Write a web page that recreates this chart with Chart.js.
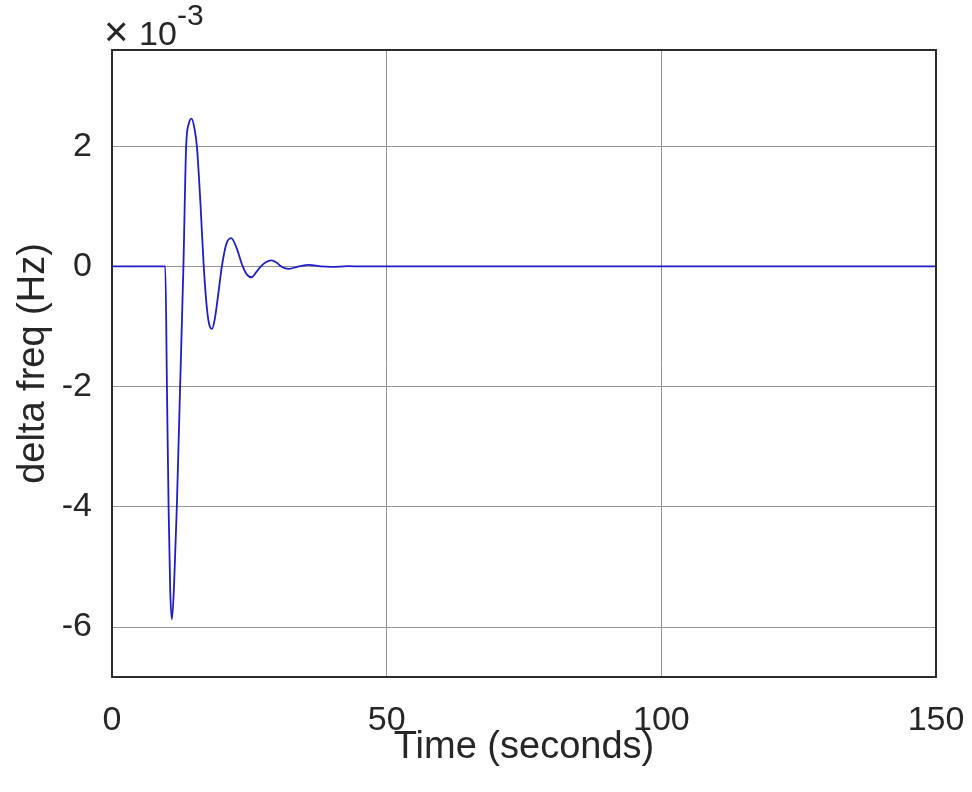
<!DOCTYPE html>
<html>
<head>
<meta charset="utf-8">
<script src="https://cdn.jsdelivr.net/npm/chart.js@4.4.0/dist/chart.umd.min.js"></script>
<style>
  html, body { margin: 0; padding: 0; background: #fff; }
  canvas { display: block; }
</style>
</head>
<body>
<canvas id="freqChart" width="972" height="792"></canvas>
<script>
// time axis (seconds)
const times = [0, 9.7, 10.0, 10.3, 10.6, 10.9, 11.3, 11.8, 12.4, 13.0, 13.5, 14.0, 14.5, 15.0, 15.45,
  16.1, 16.7, 17.3, 17.8, 18.2, 18.7, 19.4, 20.0, 20.8, 21.7, 22.7, 23.8, 24.6, 25.4, 26.3,
  27.1, 28.0, 29.0, 30.0, 30.8, 32.2, 34.0, 35.9, 38.0, 40.0, 43.0, 46.0, 150];
// delta freq, in units of 1e-3 Hz
const deltaFreq = [0, 0, -2.0, -4.0, -5.4, -5.87, -5.3, -4.0, -2.0, 0, 2.0, 2.38, 2.46, 2.3, 2.0,
  1.05, 0, -0.72, -1.0, -1.04, -0.88, -0.42, 0, 0.37, 0.47, 0.3, 0, -0.14, -0.18, -0.09,
  0, 0.07, 0.1, 0.06, 0, -0.04, 0, 0.025, 0, -0.008, 0.004, 0, 0];

const xTicks = [0, 50, 100, 150];
const yTicks = [-6, -4, -2, 0, 2];

const FAMILY = "'Liberation Sans', Arial, sans-serif";
const TICK_FONT = { family: FAMILY, size: 34 };
const TITLE_FONT = { family: FAMILY, size: 38 };

// box round the plot area + the x10^-3 multiplier
const matlabBox = {
  id: "matlabBox",
  afterDraw(chart) {
    const { ctx, chartArea: a } = chart;
    ctx.save();
    ctx.strokeStyle = "#2b2b2b";
    ctx.lineWidth = 2;
    ctx.strokeRect(a.left, a.top, a.right - a.left, a.bottom - a.top);

    ctx.fillStyle = "#262626";
    ctx.textBaseline = "alphabetic";
    ctx.font = "42px " + FAMILY;
    ctx.fillText("\u00d7", 104, 46);
    ctx.font = "34px " + FAMILY;
    ctx.fillText("10", 139, 45);
    ctx.font = "30px " + FAMILY;
    ctx.fillText("-3", 177, 25);
    ctx.restore();
  }
};

const ctx = document.getElementById("freqChart").getContext("2d");
new Chart(ctx, {
  type: "line",
  data: {
    datasets: [{
      label: "delta freq",
      data: times.map((t, i) => ({ x: t, y: deltaFreq[i] })),
      borderColor: "#1e1ec8",
      borderWidth: 1.8,
      pointRadius: 0,
      cubicInterpolationMode: "monotone",
      fill: false
    }]
  },
  options: {
    responsive: false,
    animation: false,
    devicePixelRatio: 1,
    layout: { padding: { top: 50, right: 36, left: 0, bottom: 0 } },
    plugins: { legend: { display: false }, tooltip: { enabled: false } },
    scales: {
      x: {
        type: "linear",
        min: 0,
        max: 150,
        afterFit(scale) {
          scale.height = 115;
          scale.paddingLeft = 0;
          scale.paddingRight = 0;
        },
        afterBuildTicks(scale) { scale.ticks = xTicks.map(v => ({ value: v })); },
        grid: { color: "#949494", lineWidth: 1, drawTicks: false },
        border: { display: false },
        ticks: { color: "#262626", font: TICK_FONT, padding: 23, maxRotation: 0 },
        title: { display: true, text: "Time (seconds)", color: "#262626", font: TITLE_FONT, padding: { top: 0, bottom: 22 } }
      },
      y: {
        type: "linear",
        min: -6.83,
        max: 3.6,
        afterFit(scale) {
          scale.width = 112;
          scale.paddingTop = 0;
          scale.paddingBottom = 0;
        },
        afterBuildTicks(scale) { scale.ticks = yTicks.map(v => ({ value: v })); },
        grid: { color: "#949494", lineWidth: 1, drawTicks: false },
        border: { display: false },
        ticks: { color: "#262626", font: TICK_FONT, padding: 20 },
        title: { display: true, text: "delta freq (Hz)", color: "#262626", font: TITLE_FONT, padding: { top: 11, bottom: 0 } }
      }
    }
  },
  plugins: [matlabBox]
});
</script>
</body>
</html>
